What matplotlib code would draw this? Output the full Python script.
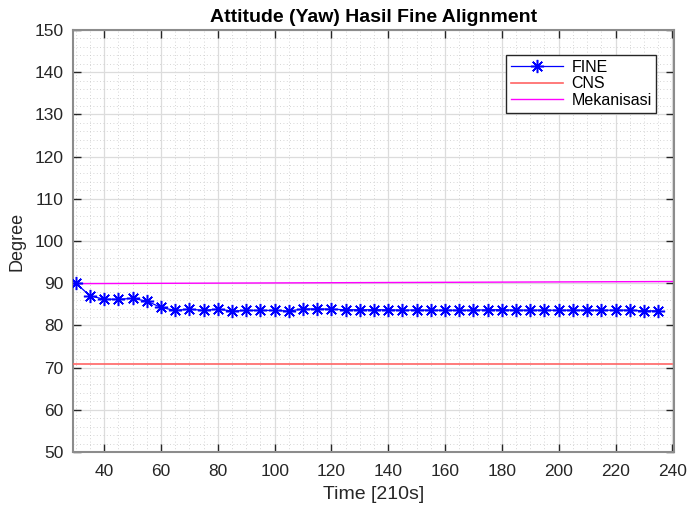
import numpy as np
import matplotlib
matplotlib.use("Agg")
import matplotlib.pyplot as plt
from matplotlib.ticker import MultipleLocator

time_fine = list(range(30, 240, 5))
yaw_fine = [90.0, 87.0, 86.2, 86.2, 86.4, 85.75, 84.25, 83.55, 83.85, 83.55,
            83.85, 83.4, 83.55, 83.55, 83.55, 83.4, 83.9, 83.9, 83.85, 83.7,
            83.7, 83.7, 83.7, 83.6, 83.65, 83.6, 83.6, 83.6, 83.6, 83.7,
            83.7, 83.6, 83.6, 83.6, 83.6, 83.6, 83.6, 83.6, 83.6, 83.6,
            83.45, 83.45]
time_line = [29, 240]
yaw_cns = [70.9, 70.9]
yaw_mek = [89.9, 90.4]

plt.rcParams['font.family'] = ['Liberation Sans', 'DejaVu Sans']
fig = plt.figure(figsize=(6.91, 5.09), dpi=100)
ax = fig.add_axes([0.1057, 0.112, 0.8693, 0.829])

ax.plot(time_fine, yaw_fine, color='blue', linestyle='-', linewidth=0.9,
        marker=(8, 2, 0), markersize=9.5, markeredgewidth=1.1, label='FINE', zorder=4)
ax.plot(time_line, yaw_cns, color='#ff6464', linewidth=1.2, label='CNS', zorder=3)
ax.plot(time_line, yaw_mek, color='#ff00ff', linewidth=1.0, label='Mekanisasi', zorder=3)

ax.set_xlim(29, 240.5)
ax.set_ylim(50, 150)
ax.xaxis.set_major_locator(MultipleLocator(20))
ax.yaxis.set_major_locator(MultipleLocator(10))
ax.xaxis.set_minor_locator(MultipleLocator(5))
ax.yaxis.set_minor_locator(MultipleLocator(2))
ax.grid(True, which='major', color='#dcdcdc', linewidth=0.9)
ax.grid(True, which='minor', color='#c8c8c8', linestyle=(0, (1, 3)), linewidth=0.6)
ax.set_axisbelow(True)

ax.tick_params(which='major', direction='in', length=6, width=1.0, top=True, right=True,
               labelsize=12.5, colors='#262626')
ax.tick_params(axis='x', which='major', pad=9)
ax.tick_params(axis='y', which='major', pad=7)
ax.tick_params(which='minor', length=0, top=True, right=True)
for s in ax.spines.values():
    s.set_color('#8c8c8c')
    s.set_linewidth(1.5)

ax.set_xlabel('Time [210s]', fontsize=14, color='#262626', labelpad=5)
ax.set_ylabel('Degree', fontsize=13, color='#262626', labelpad=6)
ax.set_title('Attitude (Yaw) Hasil Fine Alignment', fontsize=14, fontweight='bold', pad=6)

leg = ax.legend(loc='upper right', bbox_to_anchor=(0.971, 0.941), borderaxespad=0,
                fontsize=11.5, frameon=True, fancybox=False, edgecolor='#262626',
                framealpha=1, handlelength=3.3, borderpad=0.3, labelspacing=0.1,
                handletextpad=0.5)
leg.get_frame().set_linewidth(1.0)

fig.savefig('out.png', dpi=100)
